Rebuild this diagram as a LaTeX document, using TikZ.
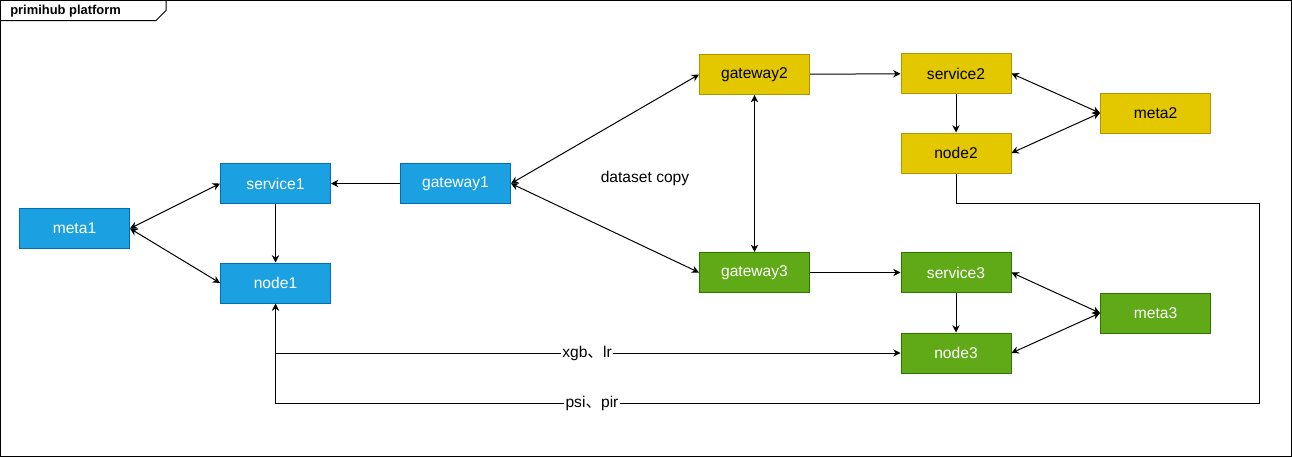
\documentclass[tikz,border=0pt]{standalone}
\usepackage{fontspec}
\setmainfont{Liberation Sans}
\newfontfamily\cjk{Noto Sans CJK SC}
\usetikzlibrary{arrows.meta}
\definecolor{bluef}{HTML}{1BA1E2}\definecolor{bluel}{HTML}{006EAF}
\definecolor{yelf}{HTML}{E3C800}\definecolor{yell}{HTML}{B09500}
\definecolor{grnf}{HTML}{60A917}\definecolor{grnl}{HTML}{2D7600}
\tikzset{
  txt/.style={font=\fontsize{11.7}{14}\selectfont},
  box/.style={rectangle, minimum width=82.5pt, minimum height=30pt, inner sep=0pt, line width=0.75pt, txt},
  bluebox/.style={box, fill=bluef, draw=bluel, text=white},
  yelbox/.style={box, fill=yelf, draw=yell, text=black},
  grnbox/.style={box, fill=grnf, draw=grnl, text=white},
  tip/.tip={Stealth[length=5.5pt, width=5.5pt, inset=1.8pt]},
  conn/.style={line width=0.75pt, draw=black},
  one/.style={conn, -tip},
  two/.style={conn, tip-tip},
  lbl/.style={fill=white, inner sep=1pt, txt},
}
\begin{document}
\begin{tikzpicture}[x=0.75pt, y=-0.75pt]
\useasboundingbox (0,0) rectangle (1292,457);
% frame
\draw[line width=0.75pt] (0.5,0.5) rectangle (1291.5,456.5);
\draw[line width=0.75pt] (0.5,20.5) -- (156,20.5) -- (166,10.5) -- (166,0.5);
\node[anchor=west, inner sep=0pt, font=\bfseries\fontsize{9.7}{11}\selectfont] (title) at (10,11) {primihub platform};
% nodes
\node[bluebox] (meta1) at (74.5,228.5) {meta1};
\node[bluebox] (service1) at (275.5,183.5) {service1};
\node[bluebox] (node1) at (275.5,283) {node1};
\node[bluebox] (gateway1) at (455.5,183.5) {gateway1};
\node[yelbox] (gateway2) at (754.5,74.5) {gateway2};
\node[grnbox] (gateway3) at (754.5,272.5) {gateway3};
\node[yelbox] (service2) at (956,73.5) {service2};
\node[yelbox] (node2) at (956,153) {node2};
\node[yelbox] (meta2) at (1155.5,113) {meta2};
\node[grnbox] (service3) at (956,272.5) {service3};
\node[grnbox] (node3) at (956,353) {node3};
\node[grnbox] (meta3) at (1155.5,313) {meta3};
\node[txt] (dcopy) at (645,178) {dataset copy};
% coordinates
\coordinate (a1) at (956,203);
\coordinate (a2) at (1259,203);
\coordinate (a3) at (1259,403);
\coordinate (a4) at (275.5,403);
\coordinate (b1) at (275.5,353);
% edges
\draw[one] (gateway1) -- (service1);
\draw[one] (service1) -- (node1);
\draw[two] (meta1.east) -- (service1.west);
\draw[two] (meta1.east) -- (node1.west);
\draw[two] (gateway1.east) -- (gateway2.west);
\draw[two] (gateway1.east) -- (gateway3.west);
\draw[two] (gateway2) -- (gateway3);
\draw[one] (gateway2) -- (service2);
\draw[one] (gateway3) -- (service3);
\draw[one] (service2) -- (node2);
\draw[one] (service3) -- (node3);
\draw[two] (service2.east) -- (meta2.west);
\draw[two] (node2.east) -- (meta2.west);
\draw[two] (service3.east) -- (meta3.west);
\draw[two] (node3.east) -- (meta3.west);
\draw[one] (node2.south) -- (a1) -- (a2) -- (a3) -- (a4) -- (node1.south);
\draw[one] (node1.south) -- (b1) -- (node3.west);
\node[lbl] (lxgb) at (587,353) {xgb{\cjk 、}lr};
\node[lbl] (lpsi) at (592,403) {psi{\cjk 、}pir};
\end{tikzpicture}
\end{document}
